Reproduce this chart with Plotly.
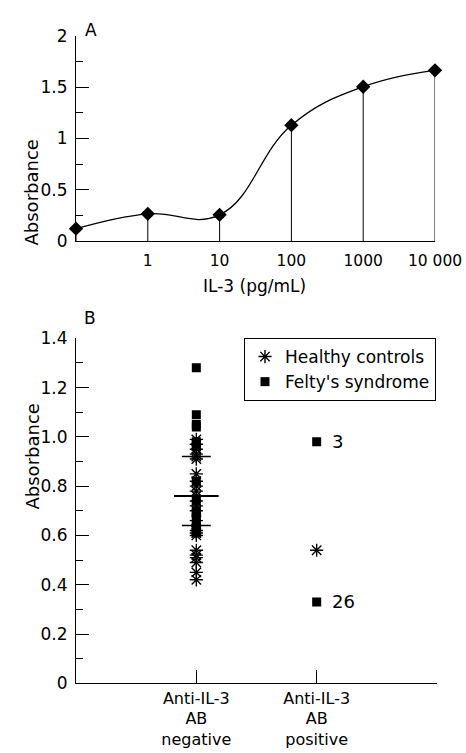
import plotly.graph_objects as go

# ---- Panel A data ----
il3_conc = [0.1, 1, 10, 100, 1000, 10000]
il3_abs = [0.12, 0.265, 0.255, 1.13, 1.505, 1.665]
a_tickvals = [1, 10, 100, 1000, 10000]
a_ticktext = ["1", "10", "100", "1000", "10 000"]

# ---- Panel B data ----
group_pos = [1, 2]
group_labels = ["Anti-IL-3<br>AB<br>negative", "Anti-IL-3<br>AB<br>positive"]
felty_neg = [1.28, 1.09, 1.05, 1.04, 0.98, 0.97, 0.96, 0.82, 0.74, 0.70, 0.69,
             0.68, 0.65, 0.64, 0.63, 0.62, 0.61]
healthy_neg = [0.99, 0.97, 0.95, 0.93, 0.92, 0.91, 0.85, 0.82, 0.80, 0.78, 0.76,
               0.74, 0.72, 0.70, 0.66, 0.62, 0.61, 0.60, 0.54, 0.52, 0.51, 0.49,
               0.45, 0.42]
felty_pos = [0.98, 0.33]
felty_pos_ids = ["3", "26"]
healthy_pos = [0.54]
neg_mean = 0.76
neg_sd_hi = 0.92
neg_sd_lo = 0.64

FONT = "DejaVu Sans"
OFF = 0
W, H = 466, 753

fig = go.Figure()

# Panel A curve
fig.add_trace(go.Scatter(
    x=il3_conc, y=il3_abs, mode="lines", line=dict(color="black", width=1.3, shape="spline", smoothing=1.2),
    xaxis="x", yaxis="y", showlegend=False, hoverinfo="skip"))
# drop lines
dx, dy = [], []
for c, a in zip(il3_conc, il3_abs):
    dx += [c, c, None]
    dy += [0, a, None]
fig.add_trace(go.Scatter(x=dx, y=dy, mode="lines", line=dict(color="black", width=1),
                         xaxis="x", yaxis="y", showlegend=False, hoverinfo="skip"))
fig.add_trace(go.Scatter(
    x=il3_conc, y=il3_abs, mode="markers",
    marker=dict(symbol="diamond", size=11, color="black"),
    xaxis="x", yaxis="y", showlegend=False, cliponaxis=False))

# Panel B
fig.add_trace(go.Scatter(
    x=[group_pos[0]] * len(healthy_neg) + [group_pos[1]] * len(healthy_pos),
    y=healthy_neg + healthy_pos, mode="markers", name="Healthy controls",
    marker=dict(symbol="asterisk-open", size=11, color="black", line=dict(color="black", width=1.4)),
    xaxis="x2", yaxis="y2"))
fig.add_trace(go.Scatter(
    x=[group_pos[0]] * len(felty_neg) + [group_pos[1]] * len(felty_pos),
    y=felty_neg + felty_pos, mode="markers", name="Felty's syndrome",
    marker=dict(symbol="square", size=9, color="black"),
    xaxis="x2", yaxis="y2"))

# mean & SD lines
half_mean, half_sd = 0.185, 0.12
fig.add_trace(go.Scatter(
    x=[group_pos[0] - half_mean, group_pos[0] + half_mean], y=[neg_mean, neg_mean],
    mode="lines", line=dict(color="black", width=2.2), xaxis="x2", yaxis="y2",
    showlegend=False, hoverinfo="skip"))
fig.add_trace(go.Scatter(
    x=[group_pos[0] - half_sd, group_pos[0] + half_sd, None, group_pos[0] - half_sd, group_pos[0] + half_sd],
    y=[neg_sd_hi, neg_sd_hi, None, neg_sd_lo, neg_sd_lo],
    mode="lines", line=dict(color="black", width=1.5), xaxis="x2", yaxis="y2",
    showlegend=False, hoverinfo="skip"))

annotations = []
for v, t in zip(felty_pos, felty_pos_ids):
    annotations.append(dict(x=group_pos[1], y=v, xref="x2", yref="y2", text=t, showarrow=False,
                            xanchor="left", xshift=13, font=dict(size=18, family=FONT, color="black")))

def px_x(p):
    return (p - OFF) / W

def px_y(p):
    return 1 - (p - OFF) / H

annotations += [
    dict(x=px_x(83), y=px_y(18), xref="paper", yref="paper", text="A", showarrow=False,
         font=dict(size=17, family=FONT, color="black")),
    dict(x=px_x(82), y=px_y(318), xref="paper", yref="paper", text="B", showarrow=False,
         font=dict(size=17, family=FONT, color="black")),
    dict(x=px_x(18), y=px_y(138), xref="paper", yref="paper", text="Absorbance", showarrow=False,
         textangle=-90, font=dict(size=18, family=FONT, color="black")),
    dict(x=px_x(20), y=px_y(512), xref="paper", yref="paper", text="Absorbance", showarrow=False,
         textangle=-90, font=dict(size=18, family=FONT, color="black")),
    dict(x=px_x(255), y=px_y(286), xref="paper", yref="paper", text="IL-3 (pg/mL)", showarrow=False,
         font=dict(size=17, family=FONT, color="black")),
]

axis_common = dict(showline=True, linecolor="black", linewidth=1, showgrid=False, zeroline=False,
                   tickfont=dict(size=17, family=FONT, color="black"), tickcolor="black",
                   automargin=False)

fig.update_layout(
    width=W, height=H, margin=dict(l=0, r=0, t=0, b=0, autoexpand=False),
    paper_bgcolor="white", plot_bgcolor="white",
    font=dict(family=FONT, color="black"),
    xaxis=dict(domain=[px_x(76), px_x(435)], anchor="y", type="log", range=[-1, 4],
               tickvals=a_tickvals, ticktext=a_ticktext, ticks="", ticklabelstandoff=5,
               **{**axis_common, "tickfont": dict(size=15.5, family=FONT, color="black")}),
    yaxis=dict(domain=[px_y(241), px_y(36)], anchor="x", range=[0, 2], dtick=0.5, ticks="inside",
               ticklen=13, tickwidth=1, ticklabelstandoff=4,
               minor=dict(dtick=0.25, ticks="inside", ticklen=7, tickcolor="black"), **axis_common),
    xaxis2=dict(domain=[px_x(76), px_x(437)], anchor="y2", range=[0, 3], tickvals=[1, 2, 3],
                ticktext=group_labels + [""], ticks="inside", ticklen=13, tickwidth=1,
                **{**axis_common, "tickfont": dict(size=16, family=FONT, color="black")}),
    yaxis2=dict(domain=[px_y(683.3), px_y(338.3)], anchor="x2", range=[0, 1.4],
                tickvals=[0, 0.2, 0.4, 0.6, 0.8, 1.0, 1.2, 1.4],
                ticktext=["0", "0.2", "0.4", "0.6", "0.8", "1.0", "1.2", "1.4"],
                ticks="inside", ticklen=13, tickwidth=1, ticklabelstandoff=4,
                minor=dict(dtick=0.1, ticks="inside", ticklen=7, tickcolor="black"), **axis_common),
    legend=dict(x=px_x(436), y=px_y(338), xanchor="right", yanchor="top",
                bordercolor="black", borderwidth=1, bgcolor="white",
                font=dict(size=17, family=FONT, color="black"), itemwidth=30,
                tracegroupgap=0),
    annotations=annotations,
    showlegend=True,
)

fig.write_html("out.html", config={"displayModeBar": False},
               post_script="document.body.style.margin='0';document.body.style.overflow='hidden';")
